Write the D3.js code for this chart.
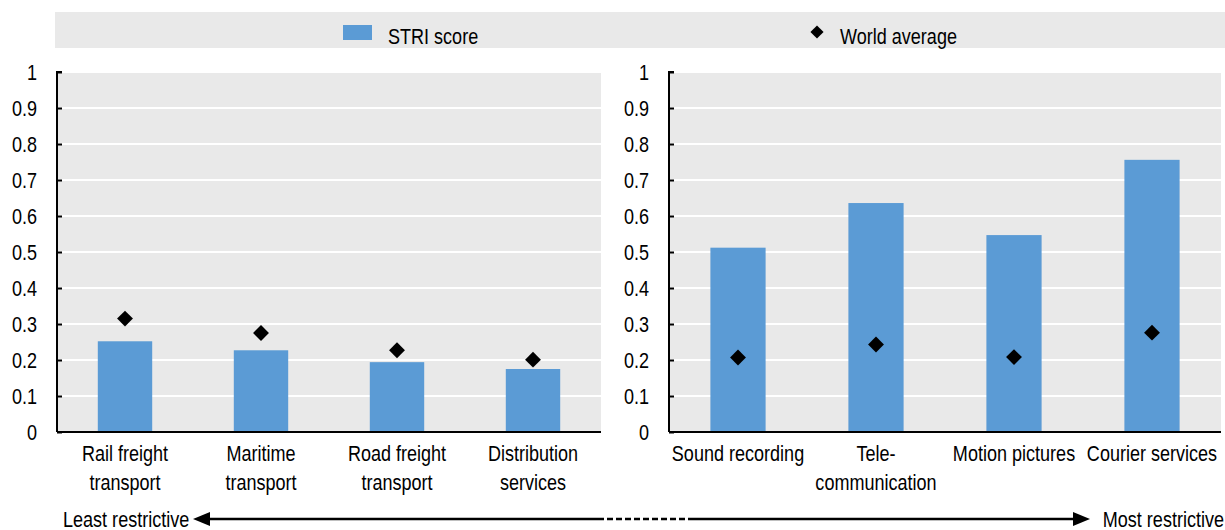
<!DOCTYPE html>
<html>
<head>
<meta charset="utf-8">
<script src="https://cdn.jsdelivr.net/npm/d3@7"></script>
<style>
  body { margin: 0; background: #fff; }
  text { font-family: "Liberation Sans Narrow", "Arial Narrow", "Liberation Sans", Arial, sans-serif; fill: #000; font-size: 22px; }
</style>
</head>
<body>
<div id="chart"></div>
<script>
// left panel: least restrictive sectors
const leftCategories = [["Rail freight", "transport"], ["Maritime", "transport"], ["Road freight", "transport"], ["Distribution", "services"]];
const leftScores = [0.252, 0.227, 0.194, 0.175];
const leftWorld = [0.315, 0.275, 0.227, 0.201];

// right panel: most restrictive sectors
const rightCategories = [["Sound recording"], ["Tele-", "communication"], ["Motion pictures"], ["Courier services"]];
const rightScores = [0.512, 0.636, 0.547, 0.756];
const rightWorld = [0.207, 0.243, 0.208, 0.276];

const yTicks = [0, 0.1, 0.2, 0.3, 0.4, 0.5, 0.6, 0.7, 0.8, 0.9, 1];
const legendLabels = ["STRI score", "World average"];

const width = 1225, height = 530;
const barColor = "#5b9bd5";
const panelBg = "#e9e9e9";
const narrow = 0.82; // squeeze regular Liberation Sans to look like Arial Narrow

const svg = d3.select("#chart").append("svg")
  .attr("width", width)
  .attr("height", height);

// text helper: condensed text anchored at (x, y)
const addText = (parent, x, y, str, anchor = "start") => {
  const g = parent.append("g")
    .attr("transform", `translate(${x}, ${y}) scale(${narrow}, 1)`);
  const t = g.append("text").attr("text-anchor", anchor);
  if (Array.isArray(str)) {
    t.selectAll("tspan")
      .data(str)
      .enter().append("tspan")
      .attr("x", 0)
      .attr("dy", (d, i) => i === 0 ? 0 : 29)
      .text(d => d);
  } else {
    t.text(str);
  }
  return t;
};

// legend band
svg.append("rect")
  .attr("x", 55).attr("y", 12)
  .attr("width", width - 55).attr("height", 36)
  .attr("fill", panelBg);
svg.append("rect")
  .attr("x", 343).attr("y", 25)
  .attr("width", 29).attr("height", 15)
  .attr("fill", barColor);
addText(svg, 388, 44, legendLabels[0]);
svg.append("path")
  .attr("transform", "translate(817, 32)")
  .attr("d", d3.symbol(d3.symbolDiamond2, 110)());
addText(svg, 840, 44, legendLabels[1]);

const y = d3.scaleLinear().domain([0, 1]).range([432, 72]);

const drawPanel = (x0, x1, categories, scores, world) => {
  const g = svg.append("g");
  const x = d3.scaleBand()
    .domain(d3.range(categories.length))
    .range([x0, x1])
    .paddingInner(0.6)
    .paddingOuter(0.3);

  g.append("rect")
    .attr("x", x0).attr("y", y(1))
    .attr("width", x1 - x0).attr("height", y(0) - y(1))
    .attr("fill", panelBg);

  g.selectAll(".grid")
    .data(yTicks.filter(t => t > 0))
    .enter().append("line")
    .attr("x1", x0).attr("x2", x1)
    .attr("y1", d => y(d)).attr("y2", d => y(d))
    .attr("stroke", "#fff")
    .attr("stroke-width", 2);

  g.selectAll(".bar")
    .data(scores)
    .enter().append("rect")
    .attr("x", (d, i) => x(i))
    .attr("width", x.bandwidth())
    .attr("y", d => y(d))
    .attr("height", d => y(0) - y(d))
    .attr("fill", barColor);

  g.selectAll(".avg")
    .data(world)
    .enter().append("path")
    .attr("transform", (d, i) => `translate(${x(i) + x.bandwidth() / 2}, ${y(d)})`)
    .attr("d", d3.symbol(d3.symbolDiamond2, 160)())
    .attr("fill", "#000");

  const yAxis = g.append("g")
    .attr("transform", `translate(${x0}, 0)`)
    .call(d3.axisRight(y).tickValues(yTicks).tickSize(5).tickFormat(""));
  yAxis.selectAll("path, line").attr("stroke", "#000").attr("stroke-width", 2);
  yAxis.select(".domain").attr("d", `M5,${y(1)}H0V${y(0)}`);

  yTicks.forEach(t => addText(g, x0 - 20, y(t) + 8, d3.format("")(t), "end"));

  g.append("line")
    .attr("x1", x0).attr("x2", x1)
    .attr("y1", y(0)).attr("y2", y(0))
    .attr("stroke", "#000").attr("stroke-width", 2);

  categories.forEach((c, i) => addText(g, x(i) + x.bandwidth() / 2, 461, c, "middle"));
};

drawPanel(57, 601, leftCategories, leftScores, leftWorld);
drawPanel(669, 1221, rightCategories, rightScores, rightWorld);

// restrictiveness arrow along the bottom
const arrowY = 519;
addText(svg, 63, arrowY + 8, "Least restrictive");
addText(svg, 1224, arrowY + 8, "Most restrictive", "end");
svg.append("line")
  .attr("x1", 205).attr("x2", 598)
  .attr("y1", arrowY).attr("y2", arrowY)
  .attr("stroke", "#000").attr("stroke-width", 2.5);
svg.append("line")
  .attr("x1", 598).attr("x2", 690)
  .attr("y1", arrowY).attr("y2", arrowY)
  .attr("stroke", "#000").attr("stroke-width", 2.5)
  .attr("stroke-dasharray", "6,3");
svg.append("line")
  .attr("x1", 690).attr("x2", 1078)
  .attr("y1", arrowY).attr("y2", arrowY)
  .attr("stroke", "#000").attr("stroke-width", 2.5);
svg.append("path")
  .attr("d", `M193,${arrowY}L210,${arrowY - 7}L210,${arrowY + 7}Z`)
  .attr("fill", "#000");
svg.append("path")
  .attr("d", `M1090,${arrowY}L1073,${arrowY - 7}L1073,${arrowY + 7}Z`)
  .attr("fill", "#000");
</script>
</body>
</html>
